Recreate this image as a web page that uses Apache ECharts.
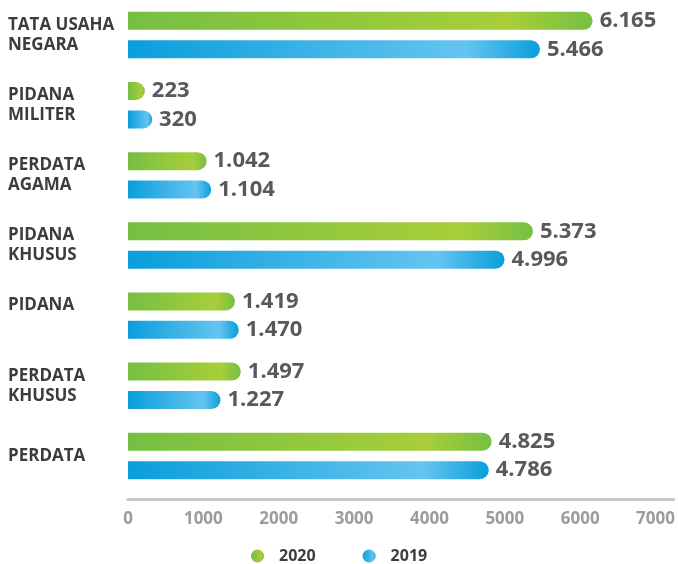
<!DOCTYPE html>
<html>
<head>
<meta charset="utf-8">
<script src="https://cdn.jsdelivr.net/npm/echarts@6/dist/echarts.min.js"></script>
<style>
  html, body { margin: 0; padding: 0; background: #fff; }
  #chart { width: 678px; height: 564px; }
</style>
</head>
<body>
<div id="chart"></div>
<script>
// data
var categories = ['TATA USAHA\nNEGARA', 'PIDANA\nMILITER', 'PERDATA\nAGAMA', 'PIDANA\nKHUSUS', 'PIDANA', 'PERDATA\nKHUSUS', 'PERDATA'];
var seriesNames = ['2020', '2019'];
var data2020 = [6165, 223, 1042, 5373, 1419, 1497, 4825];
var data2019 = [5466, 320, 1104, 4996, 1470, 1227, 4786];
var tickStep = 1000;
var tickMax = 7000;

(function () {
    var myChart = echarts.init(document.getElementById('chart'));
    var font = '"Open Sans", "Noto Sans", sans-serif';

    // 6165 -> "6.165"
    function fmt(v) {
        if (v < 1000) return String(v);
        return Math.floor(v / 1000) + '.' + String(v % 1000).padStart(3, '0');
    }
    function grad(a, b) {
        return new echarts.graphic.LinearGradient(0, 0, 1, 0, [
            { offset: 0, color: a },
            { offset: 0.82, color: b },
            { offset: 1, color: a }
        ]);
    }
    var green = grad('#76bf43', '#a8ce39');
    var blue = grad('#0a9edb', '#65c4f0');

    var barLabel = {
        show: true,
        position: 'right',
        distance: 7,
        formatter: function (p) { return fmt(p.value); },
        color: '#58595b',
        fontFamily: font,
        fontWeight: 'bold',
        fontSize: 22
    };

    var option = {
        animation: false,
        grid: { left: 128, top: -2, height: 493, right: 3 },
        legend: {
            data: seriesNames,
            left: 246,
            top: 543,
            icon: 'circle',
            itemWidth: 13,
            itemHeight: 13,
            itemGap: 47,
            textStyle: {
                color: '#3c3c3e',
                fontFamily: font,
                fontWeight: 'bold',
                fontSize: 16,
                padding: [0, 0, 0, 10]
            }
        },
        xAxis: {
            type: 'value',
            min: 0,
            max: 7240,
            interval: tickStep,
            offset: 8,
            axisLine: { show: true, lineStyle: { color: '#c5c7c9', width: 3 } },
            axisTick: { show: false },
            splitLine: { show: false },
            axisLabel: {
                margin: 12,
                color: '#9b9c9e',
                fontFamily: font,
                fontWeight: 'bold',
                fontSize: 17,
                formatter: function (v) { return (v % tickStep === 0 && v <= tickMax) ? String(v) : ''; }
            }
        },
        yAxis: {
            type: 'category',
            inverse: true,
            data: categories,
            axisLine: { show: false },
            axisTick: { show: false },
            axisLabel: {
                align: 'left',
                margin: 120,
                color: '#3c3c3e',
                fontFamily: font,
                fontWeight: 'bold',
                fontSize: 17,
                lineHeight: 20,
                // single-line PIDANA sits level with its top bar
                formatter: function (v, i) { return i === 4 ? v + '\n ' : v; }
            }
        },
        series: [
            {
                name: seriesNames[0],
                type: 'bar',
                data: data2020,
                barWidth: 18,
                barGap: '58%',
                itemStyle: { color: green, borderRadius: [0, 9, 9, 0] },
                label: barLabel
            },
            {
                name: seriesNames[1],
                type: 'bar',
                data: data2019,
                barWidth: 18,
                itemStyle: { color: blue, borderRadius: [0, 9, 9, 0] },
                label: barLabel
            }
        ]
    };
    myChart.setOption(option);
    window.addEventListener('resize', function () {
        myChart.resize();
    });
})();
</script>
</body>
</html>
